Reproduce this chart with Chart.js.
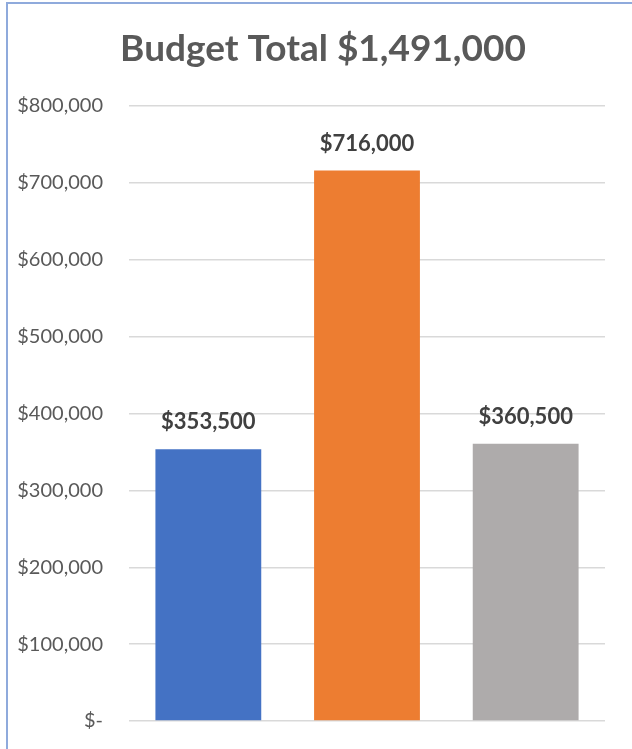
<!DOCTYPE html>
<html>
<head>
<meta charset="utf-8">
<script src="https://cdn.jsdelivr.net/npm/chart.js@4"></script>
<style>
  body { margin: 0; background: #fff; overflow: hidden; }
  #wrap { position: relative; width: 632px; height: 749px; }
  #barChart { display: block; }
  #frame { position: absolute; left: 6px; top: 2px; right: -5px; bottom: -5px;
           border-left: 2px solid #8FAADC; border-top: 2px solid #8FAADC; pointer-events: none; }
</style>
</head>
<body>
<div id="wrap">
  <canvas id="barChart" width="632" height="749"></canvas>
  <div id="frame"></div>
</div>
<script>
// chart data
var categories = ['Phase 1', 'Phase 2', 'Phase 3'];
var budgetValues = [353500, 716000, 360500];
var valueLabels = ['$353,500', '$716,000', '$360,500'];
var barColors = ['#4472C4', '#ED7D31', '#AEABAB'];
var chartTitle = 'Budget Total $1,491,000';

var fontName = 'Lato, "Open Sans", sans-serif';

function moneyTick(v){
    if(v === 0) return '$-';
    return '$' + v.toLocaleString('en-US');
}

// title drawn centred over the whole chart box, values drawn above bars
var textPlugin = {
    id: 'textPlugin',
    afterDraw: function(chart){
        var ctx = chart.ctx;
        ctx.save();
        ctx.fillStyle = '#595959';
        ctx.font = 'bold 37px ' + fontName;
        ctx.textAlign = 'center';
        ctx.textBaseline = 'middle';
        ctx.fillText(chartTitle, 323, 49);

        var meta = chart.getDatasetMeta(0);
        ctx.font = 'bold 22px ' + fontName;
        ctx.fillStyle = '#404040';
        meta.data.forEach(function(bar, i){
            ctx.fillText(valueLabels[i], bar.x, bar.y - 27);
        });
        ctx.restore();
    }
};

var ctx = document.getElementById('barChart').getContext('2d');
var barChart = new Chart(ctx, {
    type: 'bar',
    data: {
        labels: categories,
        datasets: [{
            data: budgetValues,
            backgroundColor: barColors,
            borderWidth: 0,
            categoryPercentage: 1,
            barPercentage: 0.667
        }]
    },
    options: {
        responsive: false,
        animation: false,
        layout: { padding: { left: 0, right: 27, top: 106, bottom: 28 } },
        plugins: {
            legend: { display: false },
            tooltip: { enabled: false },
            title: { display: false }
        },
        scales: {
            x: {
                display: false,
                ticks: { display: false },
                grid: { display: false }
            },
            y: {
                min: 0,
                max: 800000,
                afterFit: function(s){
                    s.width = 129;
                    // keep the tick padding from eating into the plot height
                    s.paddingTop = 12;
                    s.paddingBottom = 12;
                },
                border: { display: false },
                grid: { color: '#D9D9D9', lineWidth: 1.5, drawTicks: false },
                ticks: {
                    stepSize: 100000,
                    padding: 26,
                    color: '#595959',
                    font: { family: fontName, size: 20 },
                    callback: moneyTick
                }
            }
        }
    },
    plugins: [textPlugin]
});
</script>
</body>
</html>
